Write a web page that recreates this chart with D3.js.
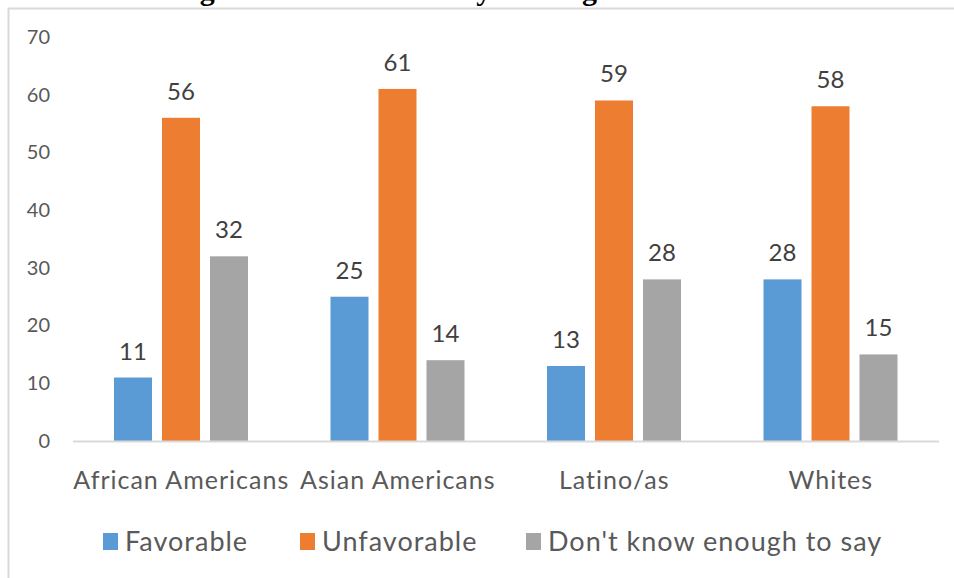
<!DOCTYPE html>
<html>
<head>
<meta charset="utf-8">
<script src="https://cdn.jsdelivr.net/npm/d3@7"></script>
<style>
  body { margin: 0; background: #fff; }
  svg text { font-family: Lato, "Open Sans", sans-serif; }
</style>
</head>
<body>
<div id="chart"></div>
<script>
'use strict';

// chart data
const groups = ["African Americans", "Asian Americans", "Latino/as", "Whites"];
const seriesNames = ["Favorable", "Unfavorable", "Don't know enough to say"];
const favorable = [11, 25, 13, 28];
const unfavorable = [56, 61, 59, 58];
const dontKnow = [32, 14, 28, 15];
const yTicks = [0, 10, 20, 30, 40, 50, 60, 70];

const Color = {
  Favorable: `#5B9BD5`,
  Unfavorable: `#ED7D31`,
  DontKnow: `#A5A5A5`,
  Label: `#404040`,
  Axis: `#595959`,
  Border: `#D9D9D9`,
}
const seriesColors = [Color.Favorable, Color.Unfavorable, Color.DontKnow];

const width = 954, height = 578;

const svg = d3.select("#chart")
  .append("svg")
    .attr("width", width)
    .attr("height", height);

// title sits above the visible area, only descenders peek in
svg.append("text")
  .attr("x", 128)
  .attr("y", 0)
  .style("font-family", "'Liberation Serif', serif")
  .style("font-size", "30px")
  .style("font-weight", "bold")
  .attr("fill", "#000")
  .text("Ratings of the Democrats by Heritage");

// chart area border
svg.append("rect")
  .attr("x", 8.5)
  .attr("y", 8.5)
  .attr("width", width + 20)
  .attr("height", height + 20)
  .attr("fill", "none")
  .attr("stroke", Color.Border)
  .attr("stroke-width", 2);

const x0 = d3.scaleBand()
  .domain(groups)
  .range([73, 939]);

const x1 = d3.scaleBand()
  .domain(seriesNames)
  .range([41, 175])
  .paddingInner(10 / 48);

const y = d3.scaleLinear()
  .domain([0, 70])
  .range([441, 37]);

// y axis labels (no line, no ticks)
const yAxis = svg.append("g")
  .attr("transform", `translate(50,0)`)
  .call(d3.axisLeft(y).tickValues(yTicks).tickSize(0).tickPadding(0));
yAxis.select(".domain").remove();
yAxis.selectAll("text")
  .style("font-family", "Lato, sans-serif")
  .style("font-size", "20px")
  .attr("fill", Color.Axis);

const rows = groups.map((g, i) => ({
  group: g,
  values: [favorable[i], unfavorable[i], dontKnow[i]],
}));

const groupG = svg.selectAll(".group")
  .data(rows)
  .enter()
  .append("g")
    .attr("transform", d => `translate(${x0(d.group)},0)`);

groupG.selectAll("rect")
  .data(d => d.values.map((v, j) => ({name: seriesNames[j], value: v, color: seriesColors[j]})))
  .enter()
  .append("rect")
    .attr("x", d => x1(d.name))
    .attr("y", d => y(d.value))
    .attr("width", x1.bandwidth())
    .attr("height", d => y(0) - y(d.value))
    .attr("fill", d => d.color);

groupG.selectAll(".val")
  .data(d => d.values.map((v, j) => ({name: seriesNames[j], value: v})))
  .enter()
  .append("text")
    .attr("x", d => x1(d.name) + x1.bandwidth() / 2)
    .attr("y", d => y(d.value) - 18)
    .attr("text-anchor", "middle")
    .style("font-size", "24px")
    .attr("fill", Color.Label)
    .text(d => d.value);

// x axis baseline
svg.append("line")
  .attr("x1", 73)
  .attr("x2", 939)
  .attr("y1", y(0) + 0.5)
  .attr("y2", y(0) + 0.5)
  .attr("stroke", Color.Border)
  .attr("stroke-width", 2);

// category labels
svg.selectAll(".cat")
  .data(groups)
  .enter()
  .append("text")
    .attr("x", d => x0(d) + x0.bandwidth() / 2)
    .attr("y", 489)
    .attr("text-anchor", "middle")
    .style("font-size", "25px")
    .style("letter-spacing", "1px")
    .attr("fill", Color.Axis)
    .text(d => d);

// legend
const legendX = [103, 300, 526];
const legend = svg.selectAll(".legend")
  .data(seriesNames)
  .enter()
  .append("g")
    .attr("transform", (d, i) => `translate(${legendX[i]},533)`);

legend.append("rect")
  .attr("width", 15)
  .attr("height", 17)
  .attr("fill", (d, i) => seriesColors[i]);

legend.append("text")
  .attr("x", 22)
  .attr("y", 18)
  .style("font-size", "27px")
  .style("letter-spacing", "1px")
  .attr("fill", Color.Axis)
  .text(d => d);
</script>
</body>
</html>
